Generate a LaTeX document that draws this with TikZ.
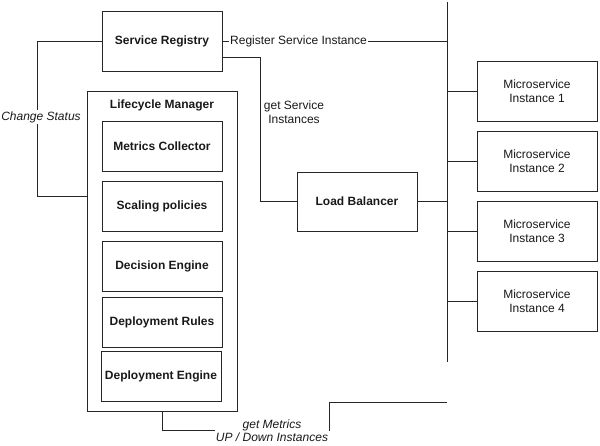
\documentclass[tikz,border=0pt]{standalone}
\usepackage{fontspec}
\setmainfont{Liberation Sans}
\begin{document}
\begin{tikzpicture}[x=1pt,y=-1pt,
  every node/.style={font=\fontsize{12}{14.3}\selectfont, text=black!90},
  box/.style={draw=black!85, line width=0.9pt, minimum width=120, minimum height=60, align=center, inner sep=1pt},
  bbox/.style={box, font=\fontsize{12}{14.3}\selectfont\bfseries},
  inbox/.style={bbox, minimum height=50},
  conn/.style={draw=black!85, line width=0.9pt},
  lbl/.style={fill=white, inner sep=1pt, align=center},
  ilbl/.style={lbl, font=\fontsize{12}{13}\selectfont\itshape}]
\useasboundingbox (0,0) rectangle (600,446);
% main boxes
\node[bbox] (sr) at (162,41) {Service Registry};
\node[bbox, minimum height=59] (lb) at (357,201.5) {Load Balancer};
\node[box] (m1) at (537,91) {Microservice\\Instance 1};
\node[box] (m2) at (537,161) {Microservice\\Instance 2};
\node[box] (m3) at (537,231) {Microservice\\Instance 3};
\node[box] (m4) at (537,301) {Microservice\\Instance 4};
% lifecycle manager
\node[box, minimum width=150, minimum height=320] (lm) at (162,251) {};
\node[font=\fontsize{12}{14.3}\selectfont\bfseries] (lmt) at (162,105) {Lifecycle Manager};
\node[inbox] (mc) at (162,146) {Metrics Collector};
\node[inbox] (sp) at (162,206) {Scaling policies};
\node[inbox] (de) at (162,266) {Decision Engine};
\node[inbox] (dr) at (162,322) {Deployment Rules};
\node[inbox] (dn) at (161,376) {Deployment Engine};
% bus
\coordinate (bt) at (447,2);
\coordinate (bb) at (447,362);
\draw[conn] (bt) -- (bb);
\draw[conn] (m1.west) -- (m1.west -| bt);
\draw[conn] (m2.west) -- (m2.west -| bt);
\draw[conn] (m3.west) -- (m3.west -| bt);
\draw[conn] (m4.west) -- (m4.west -| bt);
\draw[conn] (lb.east) -- (lb.east -| bt);
% register
\draw[conn] (sr.east) -- (sr.east -| bt);
\node[lbl, anchor=west] (reg) at (229,41.5) {Register Service Instance};
% change status
\draw[conn] (sr.west) -- (37,41) -- (37,196) -- (lm.west |- 0,196);
\node[ilbl] (cs) at (41,117) {Change Status};
% get service instances
\draw[conn] (222,57) -- (260,57) -- (260,201.5) -- (lb.west);
\node[align=center, inner sep=0pt] (gsi) at (294,112) {get Service\\Instances};
% get metrics
\node[ilbl] (gm) at (272,430.5) {get Metrics\\UP / Down Instances};
\draw[conn] (lm.south) |- (gm.west);
\draw[conn] (gm.east) |- (447,402);
\end{tikzpicture}
\end{document}
